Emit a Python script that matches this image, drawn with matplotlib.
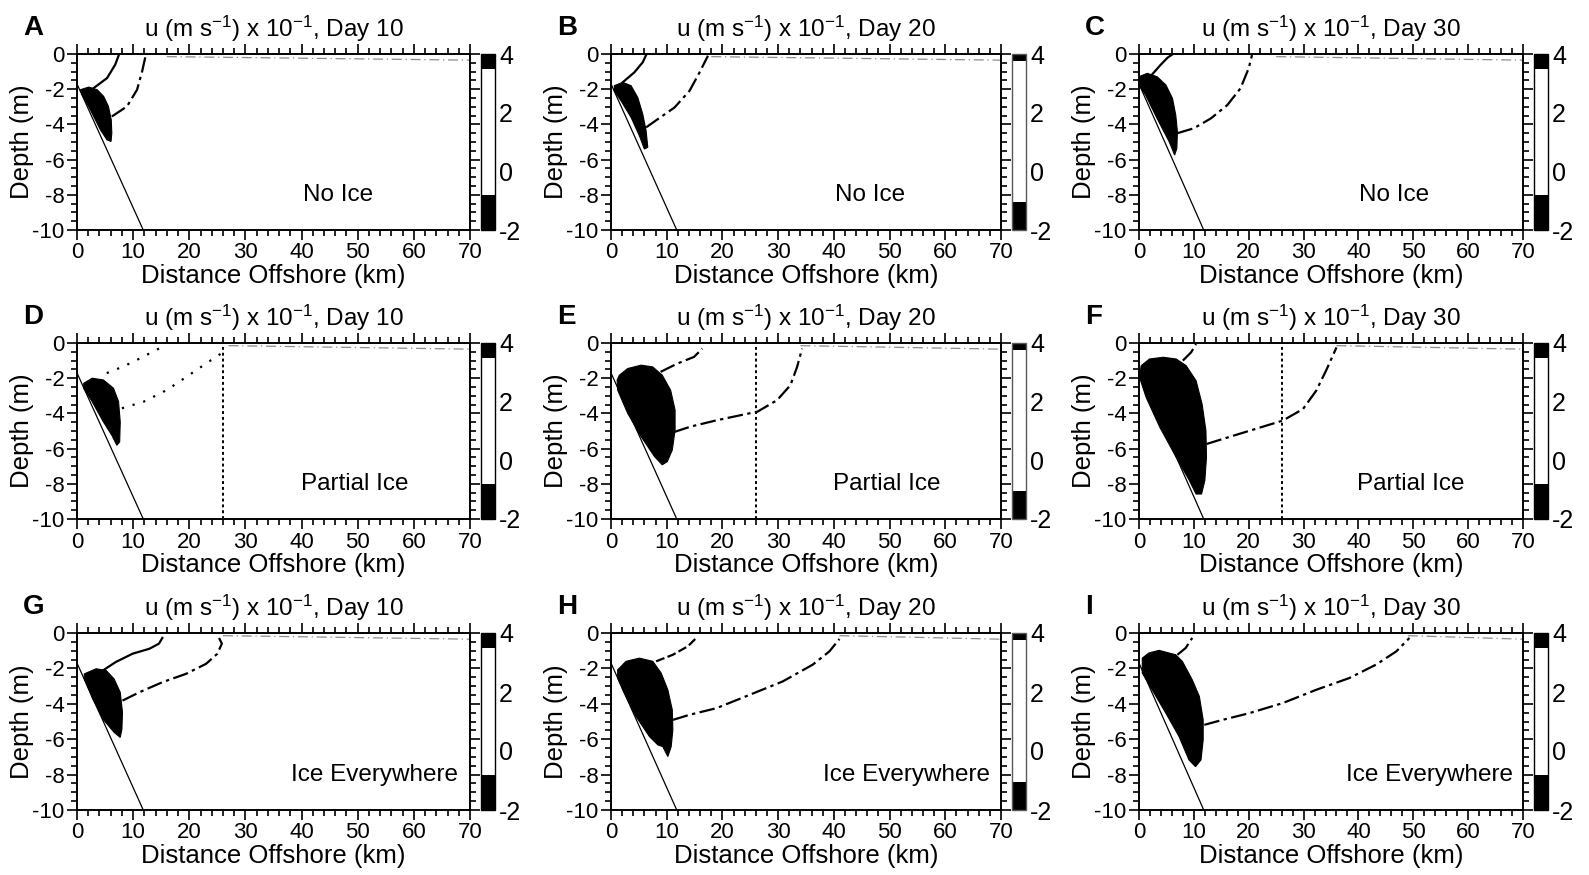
import matplotlib
matplotlib.use("Agg")
import matplotlib.pyplot as plt
from matplotlib.colors import ListedColormap, Normalize
from matplotlib.cm import ScalarMappable
import numpy as np

plt.rcParams["font.family"] = ["Liberation Sans", "DejaVu Sans"]
plt.rcParams["mathtext.fontset"] = "custom"
plt.rcParams["mathtext.rm"] = "Liberation Sans"
plt.rcParams["mathtext.it"] = "Liberation Sans:italic"
plt.rcParams["mathtext.bf"] = "Liberation Sans:bold"
plt.rcParams["axes.unicode_minus"] = False

# ---- panel metadata -------------------------------------------------------
letters = ["A", "B", "C", "D", "E", "F", "G", "H", "I"]
days = [10, 20, 30, 10, 20, 30, 10, 20, 30]
ice_labels = ["No Ice", "Partial Ice", "Ice Everywhere"]
ice_label_x = [46.5, 49.5, 53.0]
ice_edge_km = 26.0          # edge of the partial ice cover
plume_u = -1.5              # velocity inside the plume (x 10^-1 m/s)

# sloping bottom (distance km, depth m)
bottom_x = [0.0, 11.8]
bottom_z = [-1.7, -10.0]

# ---- plume outlines (km, m) ----------------------------------------------
plume_a = [(0.6, -2.03), (2.1, -1.88), (3.6, -2.03), (4.75, -2.41), (5.6, -2.98),
           (6.1, -3.74), (6.2, -4.5), (6.06, -4.97), (5.35, -4.88), (4.16, -4.3),
           (2.38, -3.17), (0.9, -2.3)]
plume_b = [(0.6, -1.8), (2.1, -1.61), (3.6, -1.8), (4.8, -2.47), (5.7, -3.42),
           (6.3, -4.36), (6.6, -5.3), (6.0, -5.4), (5.1, -4.65), (3.6, -3.6),
           (1.8, -2.66), (0.6, -2.1)]
plume_c = [(0.0, -1.29), (1.5, -1.1), (3.3, -1.29), (4.9, -1.76), (6.1, -2.52),
           (6.7, -3.47), (7.0, -4.41), (6.9, -5.36), (6.5, -5.74), (5.5, -4.98),
           (3.3, -3.66), (1.2, -2.33), (0.0, -1.76)]
plume_d = [(1.2, -2.29), (2.7, -2.0), (4.7, -2.1), (6.5, -2.57), (7.4, -3.33),
           (7.7, -4.48), (7.6, -5.62), (7.1, -5.81), (6.2, -5.24), (4.7, -4.48),
           (2.7, -3.33), (1.2, -2.57)]
plume_e = [(1.5, -1.83), (3.0, -1.45), (5.4, -1.26), (7.5, -1.36), (9.2, -1.83),
           (10.7, -2.68), (11.5, -3.81), (11.5, -4.94), (11.0, -6.08), (10.1, -6.74),
           (9.2, -6.92), (7.8, -6.45), (5.4, -5.32), (3.0, -4.0), (1.2, -2.68),
           (1.1, -2.11)]
plume_f = [(0.4, -1.29), (1.9, -0.91), (4.4, -0.81), (6.8, -0.91), (8.6, -1.29),
           (10.4, -2.14), (11.5, -3.47), (12.2, -4.98), (12.3, -6.5), (12.0, -7.82),
           (11.4, -8.58), (10.4, -8.58), (9.2, -7.82), (6.8, -6.5), (3.8, -4.79),
           (1.3, -3.09), (0.1, -1.95)]
plume_g = [(1.3, -2.31), (3.4, -2.02), (5.2, -2.12), (6.6, -2.59), (7.7, -3.35),
           (8.1, -4.48), (8.0, -5.43), (7.7, -5.9), (6.6, -5.61), (4.6, -4.86),
           (2.8, -3.72), (1.3, -2.59)]
plume_h = [(1.2, -2.08), (2.7, -1.6), (5.1, -1.42), (7.5, -1.6), (9.0, -2.26),
           (10.2, -3.21), (11.0, -4.34), (11.1, -5.47), (10.8, -6.42), (10.2, -6.98),
           (9.3, -6.42), (8.4, -6.32), (6.9, -5.85), (4.5, -4.72), (2.4, -3.4),
           (1.2, -2.55)]
plume_i = [(0.6, -1.42), (1.8, -1.13), (3.65, -0.98), (6.7, -1.23), (7.9, -1.6),
           (9.7, -2.64), (11.0, -3.58), (11.7, -4.91), (11.7, -6.04), (11.3, -7.17),
           (10.3, -7.55), (9.1, -7.17), (7.3, -5.85), (4.9, -4.53), (2.4, -3.21),
           (0.6, -2.26)]

# ---- contour from the plume top to the surface ----------------------------
upper_a = [(2.7, -2.0), (5.35, -1.37), (6.8, -0.61), (7.4, -0.1)]
upper_b = [(2.1, -1.61), (4.2, -1.04), (5.7, -0.47), (6.3, -0.06)]
upper_c = [(2.4, -1.16), (3.9, -0.63), (5.2, -0.21), (6.1, -0.02)]
upper_d = [(5.3, -1.71), (8.3, -1.33), (11.3, -0.86), (14.2, -0.38), (15.4, -0.19)]
upper_e = [(8.9, -1.64), (11.9, -1.17), (14.9, -0.79), (16.4, -0.32)]
upper_f = [(8.0, -1.0), (9.5, -0.53), (10.4, -0.06)]
upper_g = [(4.6, -2.12), (6.9, -1.64), (9.9, -1.17), (12.9, -0.89), (14.6, -0.6),
           (15.2, -0.28)]
upper_h = [(8.1, -1.6), (11.1, -1.23), (13.8, -0.75), (15.3, -0.28)]
upper_i = [(7.0, -1.23), (8.5, -0.85), (9.7, -0.28)]

# ---- contour from the plume nose to the surface ---------------------------
lower_a = [(6.2, -3.55), (8.9, -2.98), (10.7, -2.03), (11.6, -0.99), (12.2, -0.13)]
lower_b = [(6.3, -4.17), (8.4, -3.7), (11.4, -3.04), (14.1, -2.09), (15.9, -1.04),
           (17.4, -0.1)]
lower_c = [(7.0, -4.5), (10.0, -4.22), (13.1, -3.66), (16.1, -2.9), (18.5, -1.95),
           (20.0, -0.81), (20.6, -0.06)]
lower_d = [(8.0, -3.71), (11.9, -3.33), (16.0, -2.67), (19.6, -1.9), (23.1, -1.14),
           (25.8, -0.57), (26.2, -0.19)]
lower_e = [(11.3, -5.06), (14.3, -4.75), (19.1, -4.38), (26.3, -3.9), (29.8, -3.25),
           (32.2, -2.4), (33.4, -1.36), (34.3, -0.32)]
lower_f = [(12.3, -5.74), (15.3, -5.45), (20.2, -4.98), (26.2, -4.41), (29.9, -3.75),
           (32.3, -2.71), (34.1, -1.57), (36.0, -0.25)]
lower_g = [(8.1, -3.82), (11.1, -3.35), (15.2, -2.78), (19.4, -2.31), (23.0, -1.74),
           (25.0, -1.17), (25.8, -0.6), (25.3, -0.28)]
lower_h = [(11.1, -4.91), (14.1, -4.62), (18.9, -4.25), (24.2, -3.58), (30.8, -2.74),
           (36.2, -1.79), (39.2, -1.04), (41.0, -0.34)]
lower_i = [(11.9, -5.19), (15.2, -4.91), (20.1, -4.53), (26.2, -3.96), (32.3, -3.21),
           (38.3, -2.55), (43.2, -1.79), (46.9, -1.04), (49.3, -0.28)]

# faint near-surface contour: start distance per panel, depth at start / at 70 km
surface_start = [16, 18, 25, 27, 34, 36, 26, 41, 49]
surface_z = [-0.15, -0.35]

plumes = [plume_a, plume_b, plume_c, plume_d, plume_e, plume_f, plume_g, plume_h, plume_i]
uppers = [upper_a, upper_b, upper_c, upper_d, upper_e, upper_f, upper_g, upper_h, upper_i]
lowers = [lower_a, lower_b, lower_c, lower_d, lower_e, lower_f, lower_g, lower_h, lower_i]

# ---- line styles ---------------------------------------------------------
dashdot = (0, (7, 2, 1.5, 2))
dotted = (0, (1, 4))
dashed = (0, (4, 1.5))
upper_styles = ["-", "-", "-", dotted, dashdot, dashdot, "-", dashed, dashdot]
lower_styles = [dashdot, dashdot, dashdot, dotted, dashdot, dashdot, dashdot, dashdot, dashdot]

# ---- colour scale: dark at both ends, white in between -------------------
vmin, vmax = -2.0, 4.0
levels = np.linspace(vmin, vmax, 121)


def make_cmap(lo, hi):
    cols = [(0, 0, 0) if (v <= lo or v >= hi) else (1, 1, 1) for v in levels]
    return ListedColormap(cols)


cmap_main = make_cmap(-0.8, 3.55)
cmap_mid = make_cmap(-1.05, 3.8)
norm = Normalize(vmin, vmax)

# ---- layout (pixels) -----------------------------------------------------
W, H = 1589, 875
col_px = [(77, 470), (611, 1001), (1139, 1523)]
row_px = [(54, 230), (343, 519), (633, 810)]

fig = plt.figure(figsize=(W / 100, H / 100), dpi=100)
fig.patch.set_facecolor("white")

for k in range(9):
    r, c = divmod(k, 3)
    x0, x1 = col_px[c]
    y0, y1 = row_px[r]
    wpx, hpx = x1 - x0, y1 - y0
    ax = fig.add_axes([x0 / W, 1 - y1 / H, wpx / W, hpx / H])
    ax.set_xlim(0, 70)
    ax.set_ylim(-10, 0)
    cmap = cmap_main if c != 1 else cmap_mid

    # plume
    px, pz = zip(*plumes[k])
    ax.fill(px, pz, color=cmap(norm(plume_u)), lw=0.8, ec="black", zorder=3)

    # sloping bottom
    ax.plot(bottom_x, bottom_z, color="black", lw=0.9, zorder=4)

    # contours
    ux, uz = zip(*uppers[k])
    ax.plot(ux, uz, color="black", lw=1.6, ls=upper_styles[k], zorder=4)
    lx, lz = zip(*lowers[k])
    ax.plot(lx, lz, color="black", lw=1.6, ls=lower_styles[k], zorder=4)
    ax.plot([surface_start[k], 70], surface_z, color="0.55", lw=0.9,
            ls=(0, (8, 3, 1, 3)), zorder=2)

    # ice edge for the partial-ice runs
    if r == 1:
        ax.axvline(ice_edge_km, color="black", lw=1.4, ls=(0, (1.5, 1.5)), zorder=2)

    ax.text(ice_label_x[r], -8.0, ice_labels[r], ha="center", va="center",
            fontsize=17.5)

    # axes styling
    ax.set_xticks(np.arange(0, 71, 10))
    ax.set_xticks(np.arange(0, 71, 2), minor=True)
    ax.set_yticks(np.arange(-10, 1, 2))
    ax.set_yticks(np.arange(-10, 0.1, 0.5), minor=True)
    ax.tick_params(which="both", direction="out", top=True, right=True,
                   labelsize=16, pad=2, width=1.2)
    ax.tick_params(which="major", length=7)
    ax.tick_params(which="minor", length=4)
    for sp in ax.spines.values():
        sp.set_linewidth(1.4)
    ax.set_xlabel("Distance Offshore (km)", fontsize=18.5)
    ax.xaxis.set_label_coords(0.5, -34 / hpx)
    ax.set_ylabel("Depth (m)", fontsize=18.5)
    ax.yaxis.set_label_coords(-43 / wpx, 0.5)
    ax.set_title(r"u (m s$^{-1}$) x 10$^{-1}$, Day %d" % days[k], fontsize=17.5, pad=12)

    fig.text((x0 - 54) / W, 1 - (y0 - 26) / H, letters[k], fontsize=20,
             fontweight="bold", ha="left", va="center")

    # colour bar
    cax = fig.add_axes([(x1 + 11) / W, 1 - y1 / H, 14 / W, hpx / H])
    sm = ScalarMappable(norm=norm, cmap=cmap)
    cb = fig.colorbar(sm, cax=cax, ticks=[-2, 0, 2, 4])
    cb.outline.set_linewidth(1.0)
    cb.outline.set_edgecolor("black" if c != 1 else "0.35")
    cax.tick_params(length=0, labelsize=18, pad=3)

fig.savefig("out.png", dpi=100, facecolor="white")
